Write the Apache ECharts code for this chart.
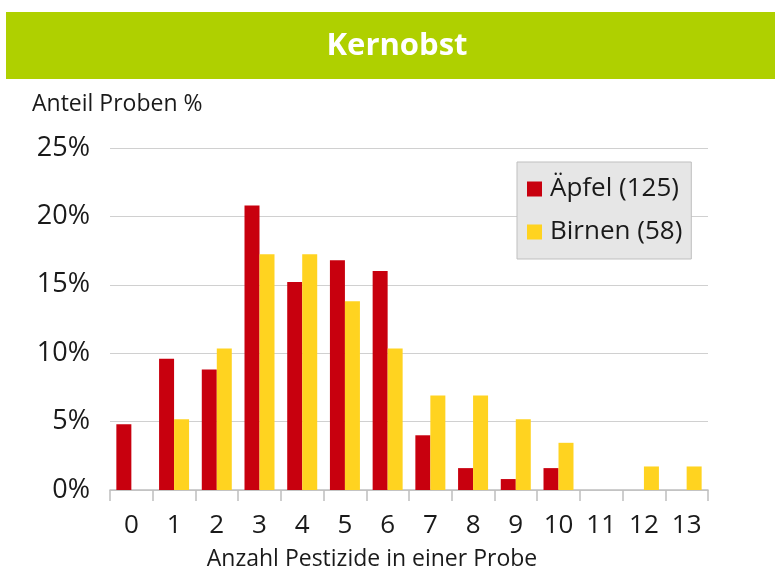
<!DOCTYPE html>
<html>
<head>
<meta charset="utf-8">
<script src="https://cdn.jsdelivr.net/npm/echarts@6/dist/echarts.min.js"></script>
<style>
  html, body { margin: 0; padding: 0; background: #ffffff; }
  #chart { width: 775px; height: 570px; }
</style>
</head>
<body>
<div id="chart"></div>
<script>
// Anteil der Proben nach Anzahl nachgewiesener Pestizide
const categories = ['0', '1', '2', '3', '4', '5', '6', '7', '8', '9', '10', '11', '12', '13'];
const aepfel = [4.8, 9.6, 8.8, 20.8, 15.2, 16.8, 16.0, 4.0, 1.6, 0.8, 1.6, 0, 0, 0];
const birnen = [0, 5.17, 10.34, 17.24, 17.24, 13.79, 10.34, 6.9, 6.9, 5.17, 3.45, 0, 1.72, 1.72];
const seriesNames = ['Äpfel (125)', 'Birnen (58)'];
const yTicks = [0, 5, 10, 15, 20, 25];

const FONT = '"Open Sans", "Noto Sans", sans-serif';
const chart = echarts.init(document.getElementById('chart'));

chart.setOption({
  animation: false,
  textStyle: { fontFamily: FONT },
  graphic: [
    {
      type: 'rect',
      shape: { x: 6, y: 12, width: 769, height: 67 },
      style: { fill: '#afd000' }
    },
    {
      type: 'text',
      x: 397, y: 46,
      style: {
        text: 'Kernobst', fill: '#ffffff', font: 'bold 31px ' + FONT,
        align: 'center', verticalAlign: 'middle'
      }
    },
    {
      type: 'text',
      x: 32, y: 104,
      style: {
        text: 'Anteil Proben %', fill: '#1a1a1a', font: '23px ' + FONT,
        align: 'left', verticalAlign: 'middle'
      }
    }
  ],
  legend: {
    orient: 'vertical',
    left: 517, top: 162,
    padding: [13, 9, 13, 10],
    itemGap: 15,
    itemWidth: 15, itemHeight: 15,
    icon: 'rect',
    backgroundColor: '#e6e6e6',
    borderColor: '#bfbfbf',
    borderWidth: 1,
    textStyle: { fontSize: 26, color: '#1a1a1a', lineHeight: 28, padding: [0, 0, 0, 3] },
    data: seriesNames
  },
  grid: { left: 110, right: 67, top: 148, bottom: 80, outerBoundsMode: 'none', containLabel: false },
  xAxis: {
    type: 'category',
    data: categories,
    name: 'Anzahl Pestizide in einer Probe',
    nameLocation: 'middle',
    nameGap: 58,
    nameTextStyle: { fontSize: 23, color: '#1a1a1a', padding: [0, 74, 0, 0] },
    axisLine: { lineStyle: { color: '#bfbfbf', width: 1.5 } },
    axisTick: { show: true, length: 11, lineStyle: { color: '#bfbfbf', width: 1.5 } },
    axisLabel: { fontSize: 26, color: '#1a1a1a', margin: 23 }
  },
  yAxis: {
    type: 'value',
    min: yTicks[0], max: yTicks[yTicks.length - 1], interval: 5,
    axisLine: { show: false },
    axisTick: { show: false },
    axisLabel: { fontSize: 27, color: '#1a1a1a', margin: 20, formatter: '{value}%' },
    splitLine: { lineStyle: { color: '#d0d0d0', width: 1 } }
  },
  series: [
    {
      name: seriesNames[0], type: 'bar', data: aepfel,
      barWidth: 15, barGap: '0%',
      itemStyle: { color: '#c8000e' }
    },
    {
      name: seriesNames[1], type: 'bar', data: birnen,
      barWidth: 15, barGap: '0%',
      itemStyle: { color: '#ffd320' }
    }
  ]
});
</script>
</body>
</html>
